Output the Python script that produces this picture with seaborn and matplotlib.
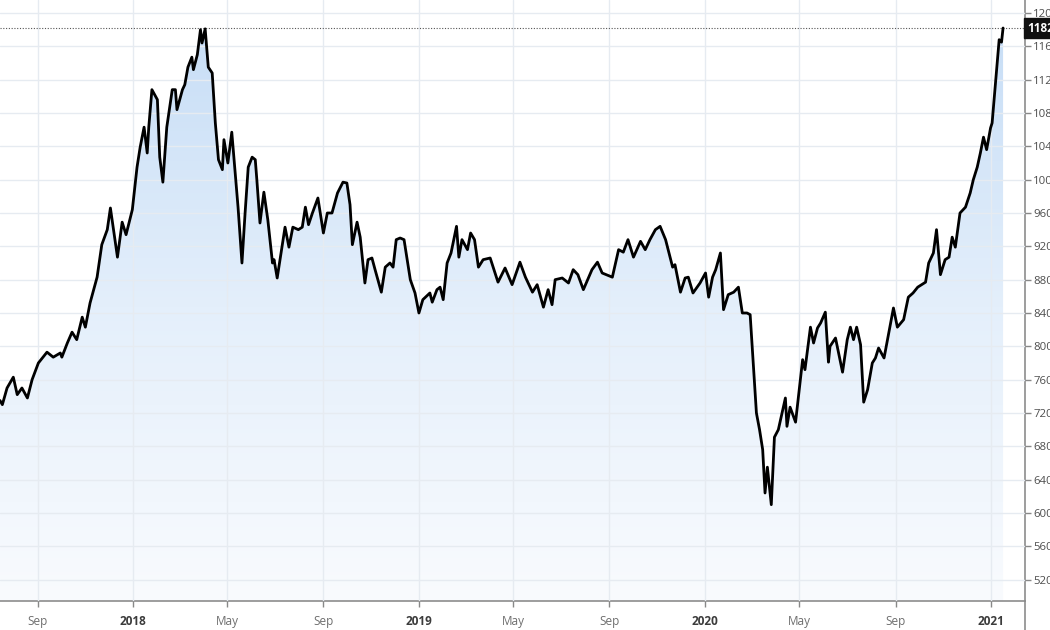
import numpy as np
import pandas as pd
import matplotlib
matplotlib.use("Agg")
import matplotlib.pyplot as plt
import matplotlib.dates as mdates
from matplotlib.colors import LinearSegmentedColormap
from matplotlib.patches import Polygon
from matplotlib.lines import Line2D
import seaborn as sns

dates = [
    "2017-07-15", "2017-07-18", "2017-07-24", "2017-08-01", "2017-08-06", "2017-08-12", "2017-08-19", "2017-08-25",
    "2017-09-02", "2017-09-13", "2017-09-21", "2017-09-30", "2017-10-02", "2017-10-09", "2017-10-15", "2017-10-21",
    "2017-10-28", "2017-11-01", "2017-11-07", "2017-11-16", "2017-11-22", "2017-11-29", "2017-12-03", "2017-12-12",
    "2017-12-18", "2017-12-23", "2017-12-31", "2018-01-06", "2018-01-10", "2018-01-15", "2018-01-19", "2018-01-21",
    "2018-01-25", "2018-02-01", "2018-02-04", "2018-02-08", "2018-02-13", "2018-02-20", "2018-02-24", "2018-02-26",
    "2018-03-05", "2018-03-08", "2018-03-12", "2018-03-17", "2018-03-19", "2018-03-24", "2018-03-28", "2018-03-30",
    "2018-04-03", "2018-04-07", "2018-04-12", "2018-04-16", "2018-04-20", "2018-04-25", "2018-04-27", "2018-05-02",
    "2018-05-07", "2018-05-11", "2018-05-15", "2018-05-20", "2018-05-24", "2018-05-28", "2018-06-02", "2018-06-06",
    "2018-06-08", "2018-06-12", "2018-06-17", "2018-06-22", "2018-06-28", "2018-06-30", "2018-07-04", "2018-07-10",
    "2018-07-14", "2018-07-19", "2018-07-24", "2018-07-31", "2018-08-05", "2018-08-09", "2018-08-13", "2018-08-18",
    "2018-08-25", "2018-09-01", "2018-09-06", "2018-09-12", "2018-09-19", "2018-09-26", "2018-10-01", "2018-10-05",
    "2018-10-08", "2018-10-14", "2018-10-18", "2018-10-24", "2018-10-28", "2018-11-02", "2018-11-06", "2018-11-14",
    "2018-11-19", "2018-11-25", "2018-11-29", "2018-12-03", "2018-12-08", "2018-12-13", "2018-12-21", "2018-12-27",
    "2019-01-01", "2019-01-06", "2019-01-15", "2019-01-18", "2019-01-24", "2019-01-28", "2019-02-01", "2019-02-06",
    "2019-02-11", "2019-02-18", "2019-02-21", "2019-02-25", "2019-03-04", "2019-03-08", "2019-03-13", "2019-03-18",
    "2019-03-24", "2019-04-02", "2019-04-12", "2019-04-21", "2019-04-30", "2019-05-10", "2019-05-17", "2019-05-26",
    "2019-06-01", "2019-06-09", "2019-06-15", "2019-06-20", "2019-06-24", "2019-07-03", "2019-07-11", "2019-07-17",
    "2019-07-23", "2019-07-30", "2019-08-10", "2019-08-17", "2019-08-23", "2019-09-05", "2019-09-13", "2019-09-19",
    "2019-09-25", "2019-10-02", "2019-10-11", "2019-10-17", "2019-10-23", "2019-10-30", "2019-11-05", "2019-11-12",
    "2019-11-21", "2019-11-24", "2019-12-01", "2019-12-07", "2019-12-11", "2019-12-17", "2019-12-26", "2020-01-02",
    "2020-01-06", "2020-01-11", "2020-01-15", "2020-01-21", "2020-01-25", "2020-01-31", "2020-02-07", "2020-02-13",
    "2020-02-18", "2020-02-24", "2020-02-28", "2020-03-03", "2020-03-07", "2020-03-11", "2020-03-15", "2020-03-18",
    "2020-03-21", "2020-03-26", "2020-03-30", "2020-04-04", "2020-04-13", "2020-04-15", "2020-04-19", "2020-04-26",
    "2020-05-05", "2020-05-08", "2020-05-15", "2020-05-19", "2020-05-24", "2020-05-28", "2020-06-03", "2020-06-07",
    "2020-06-09", "2020-06-16", "2020-06-25", "2020-07-01", "2020-07-05", "2020-07-09", "2020-07-13", "2020-07-18",
    "2020-07-22", "2020-07-27", "2020-08-02", "2020-08-06", "2020-08-10", "2020-08-17", "2020-08-23", "2020-08-29",
    "2020-09-03", "2020-09-11", "2020-09-17", "2020-09-23", "2020-09-29", "2020-10-09", "2020-10-13", "2020-10-19",
    "2020-10-23", "2020-10-28", "2020-11-03", "2020-11-08", "2020-11-12", "2020-11-16", "2020-11-22", "2020-11-29",
    "2020-12-05", "2020-12-09", "2020-12-14", "2020-12-18", "2020-12-22", "2020-12-26", "2020-12-31", "2021-01-02",
    "2021-01-07", "2021-01-11", "2021-01-14", "2021-01-16",
]
values = [
    735, 730, 750, 763, 742, 750, 738, 760,
    780, 793, 787, 792, 787, 804, 817, 808,
    835, 823, 852, 883, 922, 940, 966, 907,
    949, 934, 964, 1015, 1039, 1063, 1032, 1063,
    1108, 1096, 1027, 997, 1063, 1108, 1108, 1084,
    1108, 1114, 1135, 1147, 1132, 1150, 1180, 1164,
    1181, 1135, 1128, 1068, 1024, 1012, 1048, 1020,
    1057, 1012, 967, 900, 960, 1015, 1027, 1024,
    1000, 948, 985, 952, 900, 904, 882, 919,
    943, 919, 943, 940, 943, 967, 946, 960,
    978, 936, 960, 960, 984, 997, 996, 970,
    922, 949, 931, 876, 904, 906, 892, 865,
    895, 900, 895, 928, 930, 928, 880, 864,
    840, 856, 864, 853, 868, 871, 856, 900,
    912, 944, 907, 928, 916, 936, 928, 895,
    904, 906, 877, 894, 874, 901, 883, 865,
    874, 847, 868, 850, 880, 882, 876, 892,
    886, 868, 892, 901, 888, 883, 916, 913,
    928, 907, 926, 916, 928, 940, 944, 928,
    895, 898, 865, 882, 883, 864, 876, 888,
    859, 883, 892, 912, 844, 862, 865, 871,
    840, 840, 838, 780, 720, 700, 676, 624,
    655, 610, 691, 700, 738, 704, 727, 709,
    784, 772, 823, 804, 822, 828, 841, 781,
    800, 810, 769, 808, 823, 808, 823, 802,
    733, 748, 780, 786, 798, 786, 816, 846,
    823, 832, 859, 864, 871, 877, 900, 912,
    940, 886, 904, 907, 931, 919, 960, 967,
    984, 1000, 1015, 1032, 1051, 1036, 1062, 1068,
    1123, 1168, 1165, 1182,
]
y_ticks = list(range(520, 1201, 40))
x_tick_dates = ["2017-09-01", "2018-01-01", "2018-05-01", "2018-09-01", "2019-01-01", "2019-05-01",
                "2019-09-01", "2020-01-01", "2020-05-01", "2020-09-01", "2021-01-01"]
x_tick_labels = ["Sep", "2018", "May", "Sep", "2019", "May", "Sep", "2020", "May", "Sep", "2021"]
x_range = ["2017-07-15", "2021-02-13"]
y_range = [494.4, 1215.6]

sns.set_theme(style="white")
plt.rcParams['font.family'] = ['Open Sans', 'DejaVu Sans']

df = pd.DataFrame({"date": pd.to_datetime(dates), "value": values})

fig = plt.figure(figsize=(10.5, 6.3), dpi=100)
ax = fig.add_axes([0, 29 / 630, 1025 / 1050, 601 / 630])

sns.lineplot(data=df, x="date", y="value", ax=ax, color="black", lw=2.0, zorder=4)

xnum = mdates.date2num(df["date"])
cmap = LinearSegmentedColormap.from_list("fade", ["#f9fbfe", "#e4effb", "#c6ddf6"])
grad = np.linspace(0, 1, 256).reshape(-1, 1)
im = ax.imshow(grad, extent=[xnum[0], xnum[-1], y_range[0], 1200], origin="lower",
               aspect="auto", cmap=cmap, zorder=1, interpolation="bilinear")
verts = [(xnum[0], y_range[0])] + list(zip(xnum, df["value"])) + [(xnum[-1], y_range[0])]
clip = Polygon(verts, closed=True, transform=ax.transData, facecolor="none", edgecolor="none")
ax.add_patch(clip)
im.set_clip_path(clip)

ax.set_xlim(pd.to_datetime(x_range[0]), pd.to_datetime(x_range[1]))
ax.set_ylim(*y_range)

# grid
ax.set_axisbelow(False)
ax.grid(True, color="#e6ebf1", lw=1.0, zorder=2)

# last value line and label
last = values[-1]
ax.axhline(last, ls=(0, (1, 1.5)), color="#555555", lw=0.8, zorder=3)
ax.annotate(str(last), xy=(1.0, last), xycoords=("axes fraction", "data"),
            xytext=(2, 0), textcoords="offset points", ha="left", va="center",
            color="white", fontweight="bold", fontsize=8.5,
            bbox=dict(boxstyle="square,pad=0.3", fc="#111111", ec="#111111"),
            annotation_clip=False)

# y axis on right
ax.yaxis.tick_right()
ax.set_yticks(y_ticks)
ax.set_yticklabels([str(t) for t in y_ticks])
ax.tick_params(axis="y", direction="out", length=4, width=1, color="#888888",
               labelcolor="#4d4d4d", labelsize=8.2, pad=2, right=True, left=False)

ax.set_xticks(pd.to_datetime(x_tick_dates))
ax.set_xticklabels(x_tick_labels)
ax.tick_params(axis="x", direction="out", length=4, width=1, color="#888888",
               labelcolor="#6e6e6e", labelsize=8.5, pad=6, bottom=True)
for lbl in ax.get_xticklabels():
    if lbl.get_text().isdigit():
        lbl.set_fontweight("bold")
        lbl.set_color("#3c3c3c")

ax.set_xlabel("")
ax.set_ylabel("")
for s in ["top", "left"]:
    ax.spines[s].set_visible(False)
for s in ["bottom", "right"]:
    ax.spines[s].set_color("#8c8c8c")
    ax.spines[s].set_linewidth(1.2)

fig.add_artist(Line2D([1025 / 1050, 1025 / 1050], [0, 29 / 630], color="#8c8c8c", lw=1.2,
                      transform=fig.transFigure))

fig.savefig("out.png", dpi=100)
